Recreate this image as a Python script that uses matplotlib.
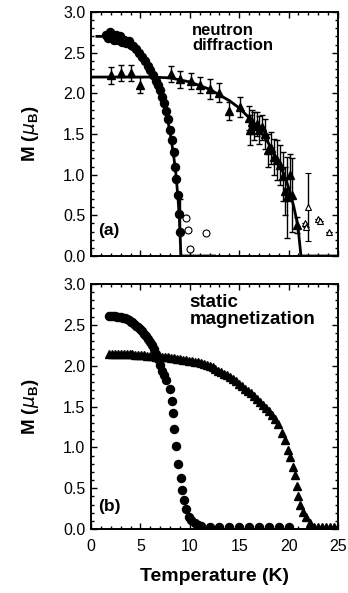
import numpy as np
import matplotlib
matplotlib.use("Agg")
import matplotlib.pyplot as plt
from matplotlib.ticker import MultipleLocator

plt.rcParams["font.family"] = ["Liberation Sans", "DejaVu Sans"]
plt.rcParams["mathtext.fontset"] = "custom"
plt.rcParams["mathtext.rm"] = "Liberation Sans"
plt.rcParams["mathtext.bf"] = "Liberation Sans:bold"

# ---- (a) neutron diffraction ----
a_circ_T = [1.5, 1.7, 1.9, 2.1, 2.3, 2.5, 2.7, 2.9, 3.1, 3.3, 3.5, 3.8, 4.0, 4.3, 4.6,
            4.9, 5.2, 5.5, 5.8, 6.0, 6.3, 6.6, 6.8, 7.0, 7.2, 7.4, 7.6, 7.8, 8.0, 8.2,
            8.35, 8.5, 8.65, 8.8, 8.95, 9.05]
a_circ_M = [2.72, 2.68, 2.75, 2.70, 2.66, 2.72, 2.65, 2.70, 2.63, 2.66, 2.62, 2.64, 2.60,
            2.58, 2.55, 2.50, 2.45, 2.40, 2.33, 2.29, 2.22, 2.15, 2.10, 2.04, 1.96, 1.88,
            1.78, 1.68, 1.55, 1.43, 1.28, 1.10, 0.95, 0.75, 0.52, 0.30]
a_circ_E = [0.03] * 34 + [0.22, 0.40]

a_open_circ_T = [9.6, 9.85, 10.0, 11.6]
a_open_circ_M = [0.47, 0.32, 0.09, 0.28]

a_tri_T = [2.0, 3.0, 4.0, 5.0, 8.1, 9.0, 10.1, 11.0, 12.0, 13.0, 14.0, 15.1,
           16.0, 16.1, 16.3, 16.5, 16.8, 17.0, 17.3, 17.6, 17.9, 18.2, 18.5, 18.8,
           19.1, 19.4, 19.6, 19.8, 20.1, 20.3, 20.8]
a_tri_M = [2.22, 2.25, 2.25, 2.10, 2.24, 2.17, 2.15, 2.10, 2.05, 2.01, 1.78, 1.83,
           1.70, 1.55, 1.65, 1.60, 1.62, 1.55, 1.58, 1.50, 1.30, 1.33, 1.22, 1.18,
           1.12, 0.98, 0.80, 0.72, 1.00, 0.75, 0.38]
a_tri_E = [0.10, 0.10, 0.10, 0.10, 0.10, 0.10, 0.10, 0.10, 0.12, 0.12, 0.11, 0.12,
           0.15, 0.18, 0.15, 0.17, 0.15, 0.17, 0.15, 0.18, 0.20, 0.20, 0.22, 0.25,
           0.25, 0.30, 0.30, 0.50, 0.25, 0.45, 0.10]

a_open_tri_T = [21.7, 21.8, 22.0, 23.0, 23.2, 24.1]
a_open_tri_M = [0.41, 0.36, 0.60, 0.45, 0.43, 0.30]
a_open_tri_E = [0.0, 0.0, 0.42, 0.0, 0.0, 0.0]

fit_circ_T = [0.6, 1.5, 2.5, 3.5, 4.5, 5.5, 6.0, 6.5, 7.0, 7.5, 7.8, 8.1, 8.4, 8.6,
              8.8, 8.95, 9.05, 9.1, 12.5]
fit_circ_M = [2.70, 2.70, 2.68, 2.64, 2.57, 2.43, 2.33, 2.21, 2.05, 1.82, 1.65, 1.45,
              1.20, 1.00, 0.72, 0.45, 0.15, 0.0, 0.0]
fit_tri_T = [0.0, 6.0, 8.0, 10.0, 12.0, 14.0, 15.0, 16.0, 17.0, 18.0, 19.0, 19.5,
             20.0, 20.5, 20.8, 21.0, 21.15, 21.25, 25.0]
fit_tri_M = [2.20, 2.20, 2.19, 2.14, 2.05, 1.91, 1.82, 1.70, 1.56, 1.38, 1.15, 1.01,
             0.84, 0.62, 0.45, 0.30, 0.12, 0.0, 0.0]

# ---- (b) static magnetization ----
b_circ_T = [1.8, 2.0, 2.2, 2.4, 2.6, 2.8, 3.0, 3.2, 3.4, 3.6, 3.8, 4.0, 4.2, 4.4, 4.6,
            4.8, 5.0, 5.2, 5.4, 5.6, 5.8, 6.0, 6.2, 6.4, 6.6, 6.8, 7.0, 7.2, 7.4, 7.6,
            7.95, 8.15, 8.3, 8.45, 8.65, 8.85, 9.1, 9.25, 9.45, 9.65, 9.9, 10.1, 10.5,
            10.8, 11.1, 12.0, 13.0, 14.0, 15.0, 16.0, 17.0, 18.0, 19.0, 20.0]
b_circ_M = [2.61, 2.61, 2.61, 2.61, 2.60, 2.60, 2.59, 2.58, 2.58, 2.57, 2.56, 2.54,
            2.53, 2.51, 2.49, 2.47, 2.45, 2.42, 2.39, 2.36, 2.33, 2.29, 2.25, 2.20,
            2.14, 2.08, 2.01, 1.94, 1.88, 1.82, 1.71, 1.57, 1.42, 1.22, 1.02, 0.80,
            0.63, 0.48, 0.36, 0.24, 0.15, 0.11, 0.07, 0.05, 0.04, 0.03, 0.03, 0.03,
            0.03, 0.03, 0.03, 0.03, 0.03, 0.03]

b_tri_T = [1.8, 2.1, 2.4, 2.7, 3.0, 3.3, 3.6, 3.9, 4.2, 4.5, 4.8, 5.1, 5.4, 5.7, 6.0,
           6.3, 6.6, 6.9, 7.2, 7.5, 7.8, 8.1, 8.4, 8.7, 9.0, 9.3, 9.6, 9.9, 10.2, 10.5,
           10.8, 11.1, 11.4, 11.7, 12.0, 12.3, 12.6, 12.9, 13.2, 13.5, 13.8, 14.1,
           14.4, 14.7, 15.0, 15.3, 15.6, 15.9, 16.2, 16.5, 16.8, 17.1, 17.4, 17.7,
           18.0, 18.3, 18.6, 18.95, 19.3, 19.6, 19.9, 20.15, 20.4, 20.6, 20.8, 21.0,
           21.2, 21.5, 21.8, 22.2, 22.6, 23.0, 23.4, 23.8, 24.2, 24.6, 25.0]
b_tri_M = [2.14, 2.14, 2.14, 2.14, 2.14, 2.14, 2.14, 2.14, 2.14, 2.13, 2.13, 2.13,
           2.13, 2.12, 2.12, 2.12, 2.11, 2.11, 2.10, 2.10, 2.10, 2.09, 2.09, 2.08,
           2.08, 2.07, 2.07, 2.06, 2.06, 2.05, 2.04, 2.03, 2.02, 2.01, 2.00, 1.98,
           1.96, 1.94, 1.92, 1.90, 1.88, 1.86, 1.84, 1.81, 1.78, 1.75, 1.72, 1.69,
           1.66, 1.63, 1.59, 1.55, 1.52, 1.48, 1.44, 1.40, 1.35, 1.29, 1.17, 1.09,
           0.97, 0.88, 0.76, 0.66, 0.53, 0.40, 0.29, 0.21, 0.15, 0.07, 0.03, 0.03,
           0.03, 0.03, 0.03, 0.03, 0.03]

xticks = [0, 5, 10, 15, 20, 25]
yticks = [0.0, 0.5, 1.0, 1.5, 2.0, 2.5, 3.0]

fig = plt.figure(figsize=(3.48, 5.93), dpi=100)
ax1 = fig.add_axes([0.2615, 0.5683, 0.7098, 0.4115])
ax2 = fig.add_axes([0.2615, 0.1079, 0.7098, 0.4132])


def style(ax):
    ax.set_xlim(0, 25)
    ax.set_ylim(0, 3.0)
    ax.set_xticks(xticks)
    ax.set_yticks(yticks)
    ax.set_yticklabels([f"{v:.1f}" for v in yticks])
    ax.xaxis.set_minor_locator(MultipleLocator(1))
    ax.yaxis.set_minor_locator(MultipleLocator(0.1))
    ax.tick_params(which="both", direction="in", top=True, right=True,
                   labelsize=11.5, width=1.0)
    ax.tick_params(axis="y", pad=4)
    ax.tick_params(axis="x", pad=7)
    ax.tick_params(which="major", length=4)
    ax.tick_params(which="minor", length=2.2)
    for s in ax.spines.values():
        s.set_linewidth(1.4)
    ax.set_ylabel(r"M ($\mu_\mathbf{B}$)", fontsize=13.5, fontweight="bold", labelpad=16)


# panel (a)
ax1.plot(fit_circ_T, fit_circ_M, color="black", lw=2.0, zorder=2)
ax1.plot(fit_tri_T, fit_tri_M, color="black", lw=2.0, zorder=2)
ax1.errorbar(a_circ_T, a_circ_M, yerr=a_circ_E, fmt="o", ms=5.8, color="black",
             ecolor="black", elinewidth=1.0, capsize=2, zorder=3)
ax1.plot(a_open_circ_T, a_open_circ_M, "o", ms=5, mfc="white", mec="black", mew=0.8,
         zorder=3)
ax1.errorbar(a_tri_T, a_tri_M, yerr=a_tri_E, fmt="^", ms=6.3, color="black",
             ecolor="black", elinewidth=1.0, capsize=2.2, zorder=3)
ax1.errorbar(a_open_tri_T, a_open_tri_M, yerr=a_open_tri_E, fmt="^", ms=5, mfc="white",
             mec="black", mew=0.8, ecolor="black", elinewidth=1.0, capsize=2.2, zorder=3)
style(ax1)
ax1.tick_params(labelbottom=False)
ax1.text(0.41, 0.955, "neutron\ndiffraction", transform=ax1.transAxes, ha="left",
         va="top", fontsize=12, fontweight="bold", linespacing=1.0)
ax1.text(0.03, 0.105, "(a)", transform=ax1.transAxes, ha="left", va="center",
         fontsize=12.5, fontweight="bold")

# panel (b)
ax2.plot(b_circ_T, b_circ_M, "o", ms=5.8, color="black", zorder=3)
ax2.plot(b_tri_T, b_tri_M, "^", ms=5.8, color="black", zorder=3)
style(ax2)
ax2.set_xticklabels([str(v) for v in xticks])
ax2.set_xlabel("Temperature (K)", fontsize=14, fontweight="bold", labelpad=10)
ax2.text(0.40, 0.96, "static\nmagnetization", transform=ax2.transAxes, ha="left",
         va="top", fontsize=13.5, fontweight="bold", linespacing=1.0)
ax2.text(0.03, 0.09, "(b)", transform=ax2.transAxes, ha="left", va="center",
         fontsize=12.5, fontweight="bold")

fig.savefig("out.png", dpi=100, facecolor="white")
